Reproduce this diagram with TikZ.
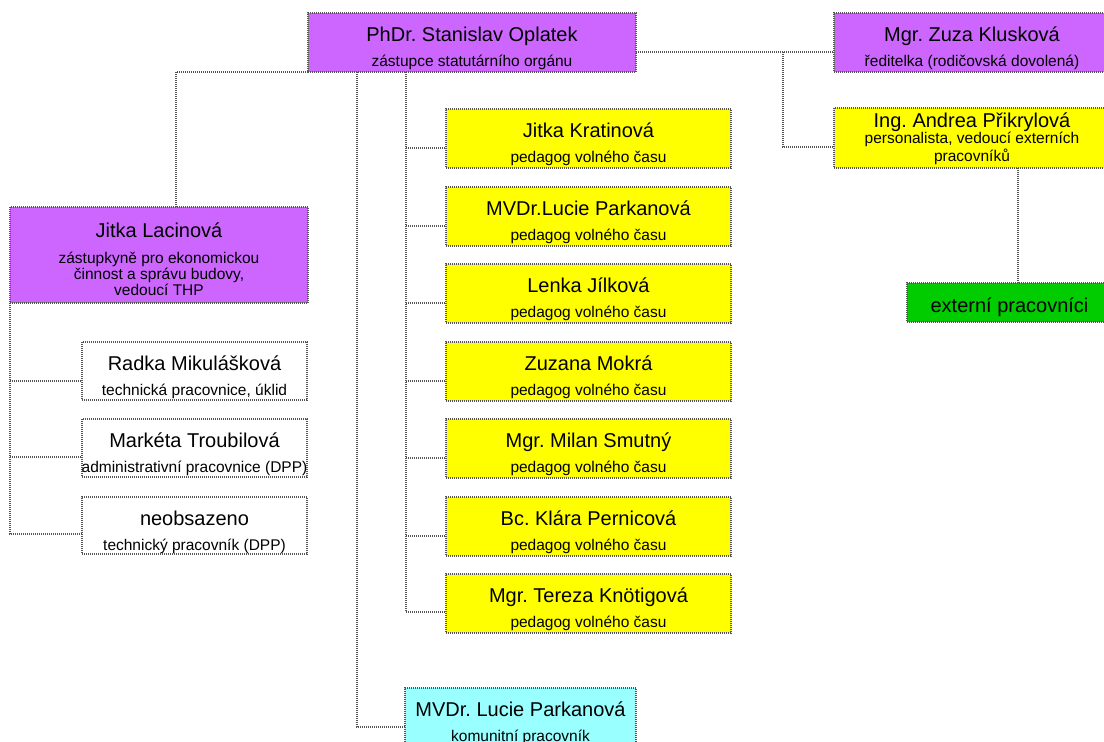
\documentclass[tikz,border=0pt]{standalone}
\usepackage{fontspec}
\setmainfont{Liberation Sans}
\usetikzlibrary{calc}
\definecolor{orgpurple}{RGB}{204,102,255}
\definecolor{orgyellow}{RGB}{255,255,0}
\definecolor{orggreen}{RGB}{0,204,0}
\definecolor{orgcyan}{RGB}{153,255,255}
\definecolor{orgline}{RGB}{85,85,85}
\tikzset{
  conn/.style={draw=orgline, line width=1.1pt, dash pattern=on 1pt off 1pt},
  orgbox/.style={draw=orgline, line width=1.1pt, dash pattern=on 1pt off 1pt, anchor=north west, inner sep=0pt, outer sep=0pt},
  nametext/.style={anchor=base, inner sep=0pt, font=\fontsize{20}{24}\selectfont},
  subtext/.style={anchor=base, inner sep=0pt, font=\fontsize{15.5}{18}\selectfont},
}
\newcommand\obox[8]{%
  \node[orgbox, fill=#6, minimum width=#4pt, minimum height=#5pt] (#1) at (#2,#3) {};
  \node[nametext] (#1-name) at ($(#1.north)+(0,28)$) {#7};
  \node[subtext] (#1-sub) at ($(#1.north)+(0,53)$) {#8};
}
\frenchspacing
\begin{document}
\frenchspacing
\begin{tikzpicture}[x=1pt,y=-1pt]
\fill[white] (0,0) rectangle (1104,742);
\clip (0,0) rectangle (1104,742);

% top level
\obox{opl}{308}{13}{328}{59}{orgpurple}{PhDr. Stanislav Oplatek}{zástupce statutárního orgánu}
\obox{klu}{834}{13}{276}{59}{orgpurple}{Mgr. Zuza Klusková}{ředitelka (rodičovská dovolená)}

% Prikrylova
\node[orgbox, fill=orgyellow, minimum width=276pt, minimum height=60pt] (pri) at (834,108) {};
\node[nametext] (pri-name) at ($(pri.north)+(0,19)$) {Ing. Andrea Přikrylová};
\node[subtext] (pri-sub1) at ($(pri.north)+(0,35)$) {personalista, vedoucí externích};
\node[subtext] (pri-sub2) at ($(pri.north)+(0,53)$) {pracovníků};

% externi
\node[orgbox, fill=orggreen, minimum width=205pt, minimum height=39pt] (ext) at (907,283) {};
\node[nametext] (ext-name) at ($(ext.north)+(0,29)$) {externí pracovníci};

% Lacinova
\node[orgbox, fill=orgpurple, minimum width=298pt, minimum height=96pt] (lac) at (10,207) {};
\node[nametext] (lac-name) at ($(lac.north)+(0,30)$) {Jitka Lacinová};
\node[subtext] (lac-sub1) at ($(lac.north)+(0,56)$) {zástupkyně pro ekonomickou};
\node[subtext] (lac-sub2) at ($(lac.north)+(0,72)$) {činnost a správu budovy,};
\node[subtext] (lac-sub3) at ($(lac.north)+(0,88)$) {vedoucí THP};

% white boxes
\obox{mik}{82}{342}{225}{58}{white}{Radka Mikulášková}{technická pracovnice, úklid}
\obox{tro}{82}{419}{225}{58}{white}{Markéta Troubilová}{administrativní pracovnice (DPP)}
\obox{neo}{82}{497}{225}{57}{white}{neobsazeno}{technický pracovník (DPP)}

% yellow column
\obox{y1}{446}{109}{285}{59}{orgyellow}{Jitka Kratinová}{pedagog volného času}
\obox{y2}{446}{187}{285}{59}{orgyellow}{MVDr.Lucie Parkanová}{pedagog volného času}
\obox{y3}{446}{264}{285}{59}{orgyellow}{Lenka Jílková}{pedagog volného času}
\obox{y4}{446}{342}{285}{59}{orgyellow}{Zuzana Mokrá}{pedagog volného času}
\obox{y5}{446}{419}{285}{59}{orgyellow}{Mgr. Milan Smutný}{pedagog volného času}
\obox{y6}{446}{497}{285}{59}{orgyellow}{Bc. Klára Pernicová}{pedagog volného času}
\obox{y7}{446}{574}{285}{59}{orgyellow}{Mgr. Tereza Knötigová}{pedagog volného času}

% cyan
\obox{cy}{405}{688}{231}{59}{orgcyan}{MVDr. Lucie Parkanová}{komunitní pracovník}

% connectors
\coordinate (lacin) at ($(lac.north west)+(166,0)$);
\draw[conn] (opl.south west) -| (lacin);

\coordinate (oplr) at ($(opl.north east)+(0,39)$);
\draw[conn] (oplr) -- (oplr -| klu.west);
\coordinate (bx) at (783,52);
\draw[conn] (bx) |- ($(pri.north west)+(0,39)$);

\coordinate (pribot) at (1018,168);
\draw[conn] (pribot) -- (pribot |- ext.north);

\coordinate (ytop) at (406,72);
\draw[conn] (ytop) |- ($(y7.north west)+(0,38)$);
\foreach \b in {y1,y2,y3,y4,y5,y6}{
  \draw[conn] ($(\b.north west)+(-40,39)$) -- ($(\b.north west)+(0,39)$);
}

\coordinate (ctop) at (357,72);
\draw[conn] (ctop) |- ($(cy.north west)+(0,39)$);

\draw[conn] (lac.south west) |- ($(neo.north west)+(0,37)$);
\draw[conn] ($(mik.north west)+(-72,39)$) -- ($(mik.north west)+(0,39)$);
\draw[conn] ($(tro.north west)+(-72,38)$) -- ($(tro.north west)+(0,38)$);
\end{tikzpicture}
\end{document}
